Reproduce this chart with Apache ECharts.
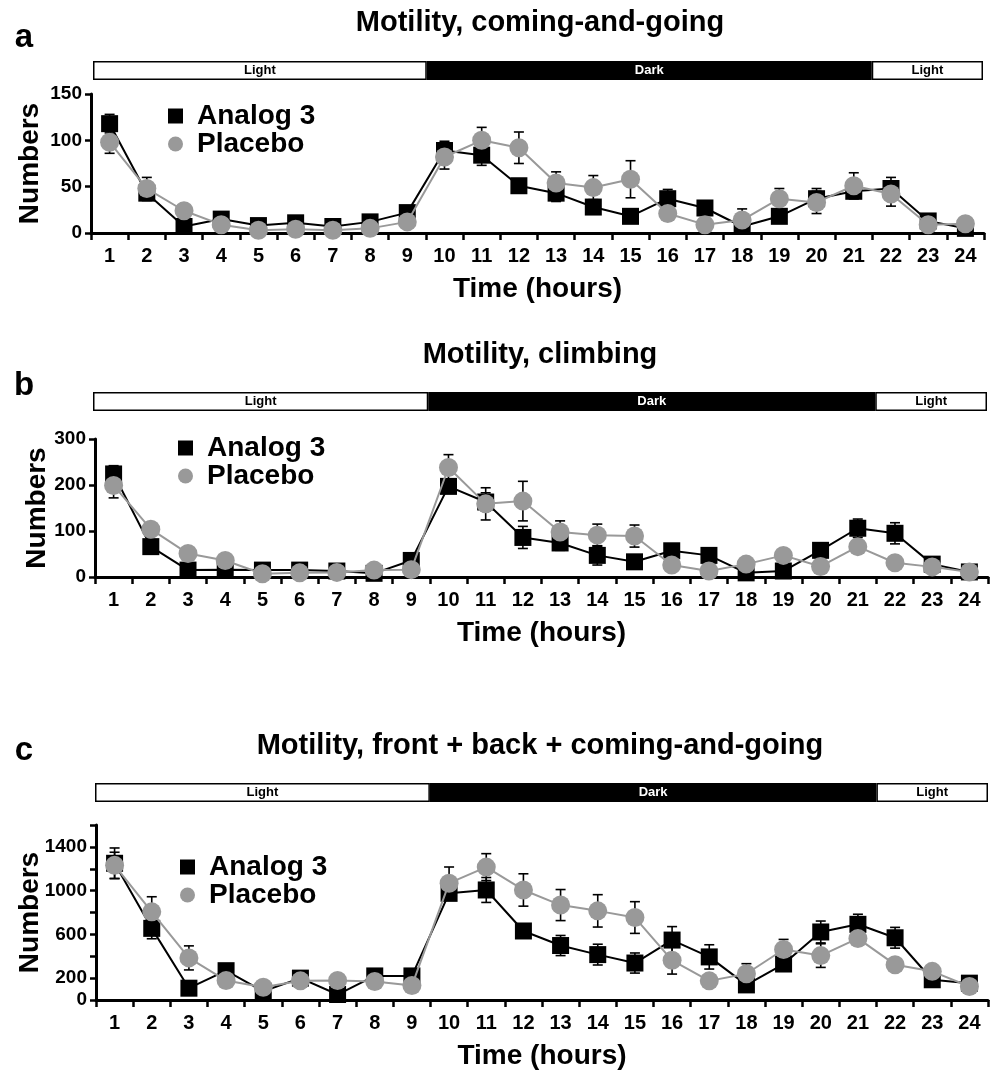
<!DOCTYPE html>
<html>
<head>
<meta charset="utf-8">
<script src="https://cdn.jsdelivr.net/npm/echarts@6/dist/echarts.min.js"></script>
<style>
html,body{margin:0;padding:0;background:#fff;}
#main{width:993px;height:1071px;}
</style>
</head>
<body>
<div id="main"></div>
<script>
// ---- data ----
const hours = ['1','2','3','4','5','6','7','8','9','10','11','12','13','14','15','16','17','18','19','20','21','22','23','24'];
const seriesNames = ['Analog 3', 'Placebo'];
const phaseNames = ['Light', 'Dark', 'Light'];
const phaseHours = [9, 12, 3];
const panelTitles = ['Motility, coming-and-going', 'Motility, climbing', 'Motility, front + back + coming-and-going'];
const panelLetters = ['a', 'b', 'c'];

const analogA = [118, 43, 7, 15, 8, 11, 7, 12, 22, 89, 84, 51, 43, 28, 18, 37, 27, 7, 18, 37, 45, 48, 13, 5];
const analogAErr = [10, 8, 2, 3, 2, 2, 2, 2, 3, 10, 11, 4, 9, 5, 3, 10, 4, 3, 6, 11, 8, 12, 3, 2];
const placeboA = [98, 48, 24, 9, 3, 4, 3, 5, 12, 82, 100, 92, 54, 49, 58, 21, 9, 14, 37, 33, 51, 42, 9, 10];
const placeboAErr = [12, 12, 3, 2, 1, 1, 1, 1, 2, 13, 14, 17, 12, 13, 20, 3, 2, 12, 11, 12, 14, 13, 2, 2];

const analogB = [224, 66, 15, 16, 15, 15, 13, 8, 36, 197, 163, 86, 74, 47, 33, 57, 47, 9, 13, 58, 106, 95, 28, 11];
const analogBErr = [18, 8, 4, 4, 3, 3, 3, 3, 12, 12, 20, 24, 16, 21, 8, 8, 8, 4, 5, 14, 20, 23, 8, 4];
const placeboB = [199, 104, 51, 36, 7, 9, 10, 15, 16, 238, 159, 165, 98, 91, 89, 26, 13, 28, 47, 23, 66, 31, 22, 11];
const placeboBErr = [27, 8, 6, 6, 3, 3, 3, 3, 4, 28, 35, 43, 24, 24, 24, 5, 4, 5, 6, 5, 8, 5, 4, 3];

const analogC = [1250, 655, 108, 268, 80, 200, 50, 220, 220, 975, 1006, 631, 498, 415, 338, 548, 394, 138, 329, 622, 692, 569, 185, 154];
const analogCErr = [140, 95, 30, 30, 20, 30, 20, 30, 30, 52, 114, 40, 92, 95, 92, 123, 111, 40, 40, 100, 92, 95, 30, 30];
const placeboC = [1231, 806, 385, 178, 117, 175, 178, 169, 132, 1068, 1215, 1006, 868, 815, 754, 363, 175, 240, 462, 406, 563, 323, 262, 123];
const placeboCErr = [120, 138, 110, 30, 20, 20, 20, 20, 20, 148, 123, 148, 142, 148, 145, 126, 30, 92, 92, 108, 40, 30, 30, 20];

const yMaxA = 150, yStepA = 50;
const yMaxB = 300, yStepB = 100;
const yMaxC = 1600, yStepC = 200;
const yLabelsC = [0, 200, 600, 1000, 1400];

// ---- layout ----
const FONT = 'Liberation Sans, Arial, Helvetica, sans-serif';
const panels = [
  { analog: analogA, aErr: analogAErr, placebo: placeboA, pErr: placeboAErr, max: yMaxA, step: yStepA, labels: null,
    grid: {left: 91, right: 9, top: 94, height: 139}, bar: {left: 93, right: 10, top: 61, height: 19},
    legend: {left: 163, top: 97, lh: 28}, titleY: 23, letterY: 38, nameGap: 47 },
  { analog: analogB, aErr: analogBErr, placebo: placeboB, pErr: placeboBErr, max: yMaxB, step: yStepB, labels: null,
    grid: {left: 95, right: 5, top: 439, height: 138}, bar: {left: 93, right: 6, top: 392, height: 19},
    legend: {left: 173, top: 429, lh: 28}, titleY: 355, letterY: 386, nameGap: 44 },
  { analog: analogC, aErr: analogCErr, placebo: placeboC, pErr: placeboCErr, max: yMaxC, step: yStepC, labels: yLabelsC,
    grid: {left: 96, right: 5, top: 825, height: 176}, bar: {left: 95, right: 5, top: 783, height: 19},
    legend: {left: 175, top: 848, lh: 25}, titleY: 746, letterY: 751, nameGap: 52 }
];

const grid = [], xAxis = [], yAxis = [], series = [], legend = [], graphic = [];

function errRender(params, api) {
  const x = api.value(0), v = api.value(1), e = api.value(2);
  const t = api.coord([x, v + e]);
  const b = api.coord([x, v - e]);
  const w = 5;
  const st = {stroke: '#000', lineWidth: 1.6};
  return {type: 'group', children: [
    {type: 'line', shape: {x1: t[0], y1: t[1], x2: b[0], y2: b[1]}, style: st},
    {type: 'line', shape: {x1: t[0] - w, y1: t[1], x2: t[0] + w, y2: t[1]}, style: st},
    {type: 'line', shape: {x1: b[0] - w, y1: b[1], x2: b[0] + w, y2: b[1]}, style: st}
  ]};
}

panels.forEach((p, k) => {
  const gi = grid.length;
  grid.push(Object.assign({containLabel: false}, p.grid));
  xAxis.push({
    type: 'category', gridIndex: gi, data: hours, boundaryGap: true,
    axisLine: {lineStyle: {color: '#000', width: 3}},
    axisTick: {show: true, length: 7, lineStyle: {color: '#000', width: 2.5}},
    axisLabel: {interval: 0, fontSize: 20, fontWeight: 'bold', color: '#000', fontFamily: FONT, margin: 13},
    name: 'Time (hours)', nameLocation: 'middle', nameGap: 42, nameMoveOverlap: false,
    nameTextStyle: {fontSize: 28, fontWeight: 'bold', color: '#000', fontFamily: FONT}
  });
  const labs = p.labels;
  yAxis.push({
    type: 'value', gridIndex: gi, min: 0, max: p.max, interval: p.step,
    axisLine: {show: true, lineStyle: {color: '#000', width: 3}},
    axisTick: {show: true, length: 6, lineStyle: {color: '#000', width: 2.5}},
    splitLine: {show: false},
    axisLabel: {fontSize: 19, fontWeight: 'bold', color: '#000', fontFamily: FONT, margin: 9,
      formatter: v => (labs ? (labs.indexOf(v) >= 0 ? String(v) : '') : String(v))},
    name: 'Numbers', nameLocation: 'middle', nameGap: p.nameGap, nameMoveOverlap: false,
    nameTextStyle: {fontSize: 28, fontWeight: 'bold', color: '#000', fontFamily: FONT}
  });
  const mk = (vals, errs) => vals.map((v, i) => [i, v, errs[i]]);
  series.push({
    type: 'custom', name: seriesNames[0] + ' SEM', xAxisIndex: gi, yAxisIndex: gi, z: 1,
    renderItem: errRender, data: mk(p.analog, p.aErr), encode: {x: 0, y: 1}, silent: true
  });
  series.push({
    type: 'custom', name: seriesNames[1] + ' SEM', xAxisIndex: gi, yAxisIndex: gi, z: 1,
    renderItem: errRender, data: mk(p.placebo, p.pErr), encode: {x: 0, y: 1}, silent: true
  });
  series.push({
    type: 'line', name: seriesNames[0], xAxisIndex: gi, yAxisIndex: gi, z: 3,
    data: p.analog, symbol: 'rect', symbolSize: 17, showAllSymbol: true,
    itemStyle: {color: '#000'}, lineStyle: {color: '#000', width: 2}
  });
  series.push({
    type: 'line', name: seriesNames[1], xAxisIndex: gi, yAxisIndex: gi, z: 4,
    data: p.placebo, symbol: 'circle', symbolSize: 19, showAllSymbol: true,
    itemStyle: {color: '#999999'}, lineStyle: {color: '#999999', width: 2}
  });
  legend.push({
    orient: 'vertical', left: p.legend.left, top: p.legend.top, itemGap: 0,
    itemWidth: 15, itemHeight: 15, selectedMode: false,
    data: [{name: seriesNames[0], icon: 'rect'}, {name: seriesNames[1], icon: 'circle'}],
    textStyle: {fontSize: 28, fontWeight: 'bold', color: '#000', fontFamily: FONT,
      lineHeight: p.legend.lh, padding: [0, 0, 0, 9]}
  });

  const bi = grid.length;
  grid.push(Object.assign({containLabel: false}, p.bar));
  xAxis.push({type: 'value', gridIndex: bi, min: 0, max: 24, show: false});
  yAxis.push({type: 'category', gridIndex: bi, data: ['phase'], show: false});
  phaseNames.forEach((nm, j) => {
    const dark = nm === 'Dark';
    series.push({
      type: 'bar', name: nm, xAxisIndex: bi, yAxisIndex: bi, stack: 'phase' + k,
      barWidth: '100%', data: [phaseHours[j]], silent: true,
      itemStyle: {color: dark ? '#000' : '#fff', borderColor: '#000', borderWidth: 1.5},
      label: {show: true, position: 'inside', formatter: nm, color: dark ? '#fff' : '#000',
        fontSize: 13, fontWeight: 'bold', fontFamily: FONT}
    });
  });

  graphic.push({type: 'text', x: 540, y: p.titleY,
    style: {text: panelTitles[k], fontSize: 29, fontWeight: 'bold', fill: '#000', fontFamily: FONT,
      textAlign: 'center', textVerticalAlign: 'middle'}});
  graphic.push({type: 'text', x: 24, y: p.letterY,
    style: {text: panelLetters[k], fontSize: 33, fontWeight: 'bold', fill: '#000', fontFamily: FONT,
      textAlign: 'center', textVerticalAlign: 'middle'}});
});

const chart = echarts.init(document.getElementById('main'), null, {renderer: 'canvas'});
chart.setOption({
  animation: false,
  backgroundColor: '#fff',
  grid, xAxis, yAxis, series, legend, graphic
});
</script>
</body>
</html>
